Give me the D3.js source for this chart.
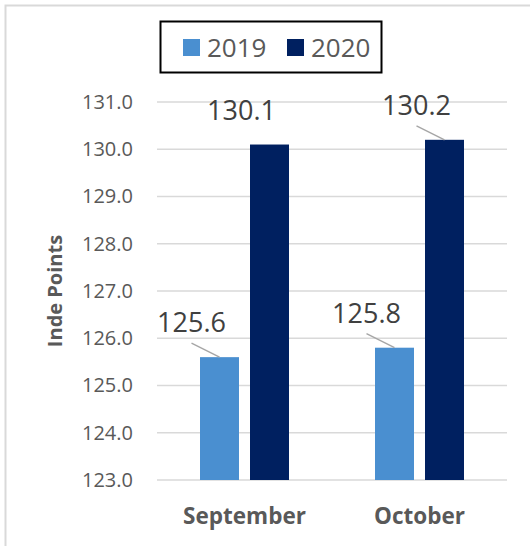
<!DOCTYPE html>
<html>
<head>
<meta charset="utf-8">
<script src="https://cdn.jsdelivr.net/npm/d3@7"></script>
<style>
    body { margin: 0; background: #fff; }
    svg { display: block; font-family: "Open Sans", sans-serif; }
</style>
</head>
<body>
<div id="chart"></div>
<script>
// data
const categories = ['September', 'October'];
const years = ['2019', '2020'];
const values2019 = [125.6, 125.8];
const values2020 = [130.1, 130.2];
const yTickValues = [123, 124, 125, 126, 127, 128, 129, 130, 131];
const yTitle = 'Inde Points';

const colors = { '2019': '#4a8fd0', '2020': '#002060' };

const width = 530, height = 546;
const plot = { left: 157, right: 507, top: 102, bottom: 480 };

const svg = d3.select('#chart').append('svg')
    .attr('width', width)
    .attr('height', height);

svg.append('rect').attr('width', width).attr('height', height).attr('fill', '#fff');

// outer chart border (only top and left visible in the crop)
svg.append('path')
    .attr('d', `M5.5,${height} V5.5 H${width}`)
    .attr('fill', 'none')
    .attr('stroke', '#d9d9d9')
    .attr('stroke-width', 2);

const rows = [];
categories.forEach((c, i) => {
    rows.push({ cat: c, year: '2019', value: values2019[i] });
    rows.push({ cat: c, year: '2020', value: values2020[i] });
});

const x0 = d3.scaleBand()
    .domain(categories)
    .range([plot.left, plot.right]);

const x1 = d3.scaleBand()
    .domain(years)
    .range([0, x0.bandwidth()])
    .paddingInner(0.22)
    .paddingOuter(0.86);

const y = d3.scaleLinear()
    .domain([d3.min(yTickValues), d3.max(yTickValues)])
    .range([plot.bottom, plot.top]);

// gridlines
svg.append('g')
    .selectAll('line')
    .data(yTickValues)
    .join('line')
    .attr('x1', plot.left)
    .attr('x2', plot.right)
    .attr('y1', d => y(d))
    .attr('y2', d => y(d))
    .attr('stroke', '#d9d9d9')
    .attr('stroke-width', 1.5);

// y axis labels
const yAxisG = svg.append('g')
    .attr('transform', `translate(${plot.left},0)`)
    .call(d3.axisLeft(y).tickValues(yTickValues).tickFormat(d3.format('.1f')).tickSize(0).tickPadding(24));
yAxisG.select('.domain').remove();
yAxisG.selectAll('text')
    .attr('font-family', '"Open Sans", sans-serif')
    .attr('font-size', 20)
    .attr('fill', '#595959');

// x axis labels
const xAxisG = svg.append('g')
    .attr('transform', `translate(0,${plot.bottom})`)
    .call(d3.axisBottom(x0).tickSize(0).tickPadding(28));
xAxisG.select('.domain').remove();
xAxisG.selectAll('text')
    .attr('font-family', '"Open Sans", sans-serif')
    .attr('font-size', 22.5)
    .attr('font-weight', 'bold')
    .attr('fill', '#595959');

// y axis title
svg.append('text')
    .attr('transform', `translate(62,${(plot.top + plot.bottom) / 2}) rotate(-90)`)
    .attr('text-anchor', 'middle')
    .attr('font-size', 20)
    .attr('font-weight', 'bold')
    .attr('fill', '#595959')
    .text(yTitle);

// bars
svg.append('g')
    .selectAll('rect')
    .data(rows)
    .join('rect')
    .attr('x', d => x0(d.cat) + x1(d.year))
    .attr('y', d => y(d.value))
    .attr('width', x1.bandwidth())
    .attr('height', d => plot.bottom - y(d.value))
    .attr('fill', d => colors[d.year]);

// data labels, nudged up-left like the original, with leader lines
const labelDx = -28, labelDy = -25;
const noLeader = new Set(['September|2020']);
const barCenter = d => x0(d.cat) + x1(d.year) + x1.bandwidth() / 2;

svg.append('g')
    .selectAll('line')
    .data(rows.filter(d => !noLeader.has(d.cat + '|' + d.year)))
    .join('line')
    .attr('x1', d => barCenter(d) + labelDx)
    .attr('y1', d => y(d.value) + labelDy + 11)
    .attr('x2', d => barCenter(d))
    .attr('y2', d => y(d.value))
    .attr('stroke', '#a6a6a6')
    .attr('stroke-width', 1.5);

svg.append('g')
    .selectAll('text')
    .data(rows)
    .join('text')
    .attr('x', d => barCenter(d) + labelDx)
    .attr('y', d => y(d.value) + labelDy)
    .attr('text-anchor', 'middle')
    .attr('font-size', 27)
    .attr('fill', '#404040')
    .text(d => d3.format('.1f')(d.value));

// legend
const legend = svg.append('g');
legend.append('rect')
    .attr('x', 160.5)
    .attr('y', 21.5)
    .attr('width', 221)
    .attr('height', 51)
    .attr('fill', '#fff')
    .attr('stroke', '#000')
    .attr('stroke-width', 2);

const legendItem = legend.selectAll('g.item')
    .data(years)
    .join('g')
    .attr('class', 'item')
    .attr('transform', (d, i) => `translate(${183 + i * 104},39)`);

legendItem.append('rect')
    .attr('width', 17)
    .attr('height', 17)
    .attr('fill', d => colors[d]);

legendItem.append('text')
    .attr('x', 24)
    .attr('y', 18)
    .attr('font-size', 26)
    .attr('fill', '#595959')
    .text(d => d);
</script>
</body>
</html>
